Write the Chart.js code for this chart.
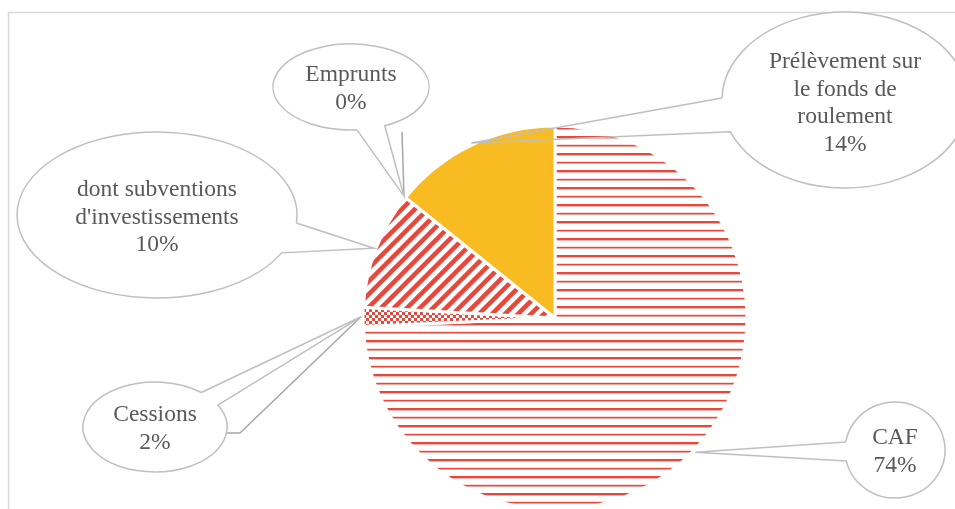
<!DOCTYPE html>
<html>
<head>
<meta charset="utf-8">
<script src="https://cdn.jsdelivr.net/npm/chart.js@4.4.0/dist/chart.umd.min.js"></script>
<style>
  html, body { margin: 0; padding: 0; background: #fff; }
  #wrap { width: 955px; height: 509px; position: relative; overflow: hidden; }
</style>
</head>
<body>
<div id="wrap"><canvas id="pie" width="955" height="509"></canvas></div>
<script>
// ====== DATA ======
const categories = ["CAF", "Cessions", "dont subventions d'investissements", "Emprunts", "Prélèvement sur le fonds de roulement"];
const values = [74.3, 1.6, 9.9, 0, 14.2];
// text shown in each bubble, before the percentage
const bubbleLines = [
  ["CAF"],
  ["Cessions"],
  ["dont subventions", "d'investissements"],
  ["Emprunts"],
  ["Prélèvement sur", "le fonds de", "roulement"]
];

// ====== COLOURS / PATTERNS ======
const RED = "#E8483C";
const ORANGE = "#F9BB22";

function makePattern(w, h, draw) {
  const c = document.createElement("canvas");
  c.width = w;
  c.height = h;
  const g = c.getContext("2d");
  draw(g, w, h);
  return g.createPattern(c, "repeat");
}

// horizontal stripes (CAF)
const hStripes = makePattern(8, 17, (g, w) => {
  g.fillStyle = RED;
  g.fillRect(0, 0, w, 2.4);
  g.fillRect(0, 8.8, w, 1.7);
});

// small checkerboard (Cessions)
const checker = makePattern(6, 6, g => {
  g.fillStyle = RED;
  g.fillRect(0, 0, 3, 3);
  g.fillRect(3, 3, 3, 3);
});

// wide upward diagonal (subventions)
const diag = makePattern(13, 13, (g, T) => {
  g.strokeStyle = RED;
  g.lineWidth = 4.5;
  g.beginPath();
  for (const c of [0, T, 2 * T]) {
    g.moveTo(-5, c + 5);
    g.lineTo(T + 5, c - T - 5);
  }
  g.stroke();
});

const fills = [hStripes, checker, diag, ORANGE, ORANGE];

// ====== BUBBLE LAYOUT (ellipse, pointer base, optional leader) ======
const bubbles = [
  { cx: 895, cy: 450, rx: 50, ry: 48, base: [[846, 442], [846, 461]], textY: 438 },
  { cx: 155, cy: 427, rx: 72, ry: 45, base: [[202, 392], [218, 405]], leader: [[227, 433], [240, 433]], textY: 415 },
  { cx: 157, cy: 215, rx: 140, ry: 83, base: [[297, 223], [282, 253]], textY: 190 },
  { cx: 351, cy: 87, rx: 78, ry: 43, base: [[357, 130], [385, 126]], leader: [[402, 132]], textY: 75 },
  { cx: 845, cy: 100, rx: 123, ry: 88, base: [[722, 98], [729, 132]], textY: 62 }
];

const LINE_H = 27.5;
const total = values.reduce((a, b) => a + b, 0);

// ====== PLUGINS ======
const framePlugin = {
  id: "frame",
  beforeDraw(chart) {
    const g = chart.ctx;
    g.save();
    g.strokeStyle = "#D9D9D9";
    g.lineWidth = 1.5;
    g.strokeRect(8.5, 12.5, 960, 520);
    g.restore();
  }
};

function onEllipse(b, p) {
  const t = Math.atan2((p[1] - b.cy) / b.ry, (p[0] - b.cx) / b.rx);
  return { t, x: b.cx + b.rx * Math.cos(t), y: b.cy + b.ry * Math.sin(t) };
}

const calloutPlugin = {
  id: "callouts",
  afterDraw(chart) {
    const g = chart.ctx;
    const arcs = chart.getDatasetMeta(0).data;
    g.save();
    arcs.forEach((arc, i) => {
      const b = bubbles[i];
      const mid = (arc.startAngle + arc.endAngle) / 2;
      const tx = arc.x + Math.cos(mid) * (arc.outerRadius + 2);
      const ty = arc.y + Math.sin(mid) * (arc.outerRadius + 2);

      // leader line
      if (b.leader) {
        g.beginPath();
        g.moveTo(b.leader[0][0], b.leader[0][1]);
        b.leader.slice(1).forEach(p => g.lineTo(p[0], p[1]));
        g.lineTo(tx, ty);
        g.strokeStyle = "#A6A6A6";
        g.lineWidth = 1.5;
        g.stroke();
      }

      // ellipse with wedge (only the ellipse is filled)
      const p1 = onEllipse(b, b.base[0]);
      const p2 = onEllipse(b, b.base[1]);
      let d = p2.t - p1.t;
      while (d < 0) d += Math.PI * 2;
      while (d >= Math.PI * 2) d -= Math.PI * 2;
      g.beginPath();
      g.ellipse(b.cx, b.cy, b.rx, b.ry, 0, 0, Math.PI * 2);
      g.fillStyle = "#fff";
      g.fill();
      g.beginPath();
      g.moveTo(p1.x, p1.y);
      g.lineTo(tx, ty);
      g.lineTo(p2.x, p2.y);
      g.ellipse(b.cx, b.cy, b.rx, b.ry, 0, p2.t, p1.t, d > Math.PI);
      g.strokeStyle = "#BFBFBF";
      g.lineWidth = 1.5;
      g.stroke();

      // text
      const lines = bubbleLines[i].concat([Math.round(values[i] / total * 100) + "%"]);
      g.fillStyle = "#595959";
      g.font = "23.5px 'Liberation Serif', 'Times New Roman', serif";
      g.textAlign = "center";
      g.textBaseline = "middle";
      lines.forEach((s, k) => g.fillText(s, b.cx, b.textY + k * LINE_H));
    });
    g.restore();
  }
};

// ====== CHART ======
new Chart(document.getElementById("pie"), {
  type: "pie",
  data: {
    labels: categories,
    datasets: [{
      data: values,
      backgroundColor: fills,
      borderColor: "#ffffff",
      borderWidth: 3,
      hoverOffset: 0,
      radius: 192
    }]
  },
  options: {
    responsive: false,
    animation: false,
    events: [],
    layout: { padding: { left: 365, right: 210, top: 128, bottom: 1 } },
    plugins: {
      legend: { display: false },
      tooltip: { enabled: false }
    }
  },
  plugins: [framePlugin, calloutPlugin]
});
</script>
</body>
</html>
